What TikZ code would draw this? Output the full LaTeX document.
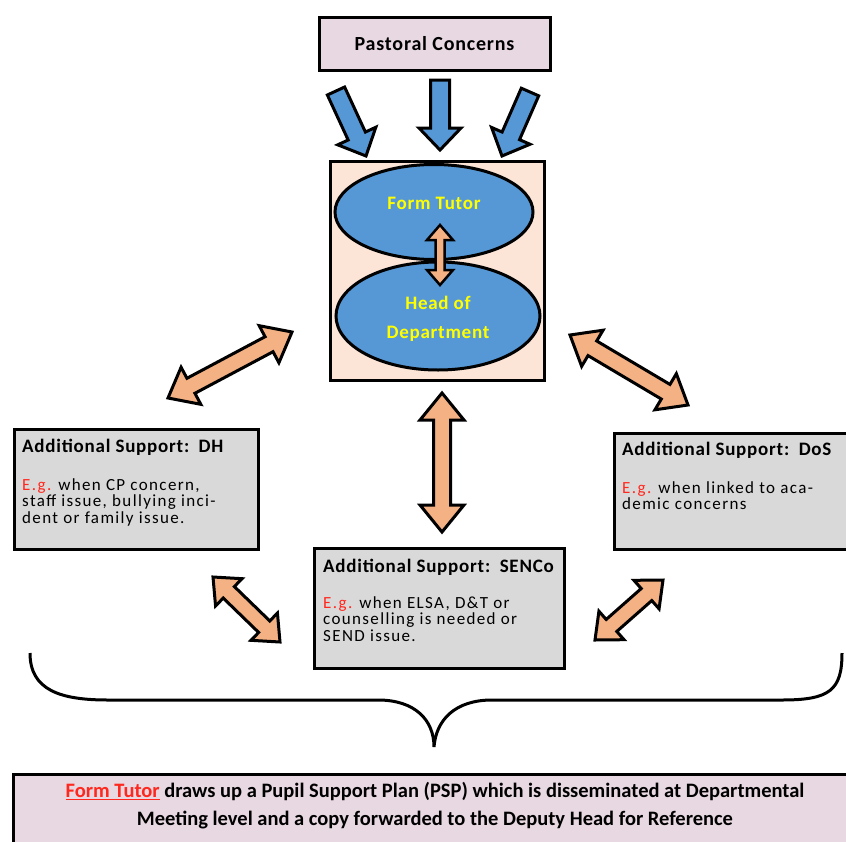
\documentclass[tikz,border=0pt]{standalone}
\usepackage{fontspec}
\setmainfont{Carlito}
\newfontfamily\widefont[LetterSpace=4]{Carlito}
\newfontfamily\bodyfont[LetterSpace=8]{Carlito}
\usetikzlibrary{calc,shapes.geometric}

\definecolor{pinkbox}{RGB}{232,216,226}
\definecolor{peach}{RGB}{252,228,214}
\definecolor{ovalblue}{RGB}{86,152,214}
\definecolor{greybox}{RGB}{217,217,217}
\definecolor{orangearr}{RGB}{244,177,131}
\definecolor{egred}{RGB}{255,40,30}
\definecolor{ovaltext}{RGB}{255,255,0}

% block arrow: from, to, half shaft, half head, head length, style
\newcommand{\blockarrow}[6]{%
  \path ($(#2)!#5!(#1)$) coordinate (hb);
  \filldraw[#6] ($(#1)!#3!90:(#2)$) -- ($(hb)!#3!90:(#2)$) -- ($(hb)!#4!90:(#2)$)
    -- (#2) -- ($(hb)!#4!-90:(#2)$) -- ($(hb)!#3!-90:(#2)$) -- ($(#1)!#3!-90:(#2)$) -- cycle;
}
% two-way block arrow, same arguments
\newcommand{\twowayarrow}[6]{%
  \path ($(#1)!#5!(#2)$) coordinate (ha) ($(#2)!#5!(#1)$) coordinate (hb);
  \filldraw[#6] (#1) -- ($(ha)!#4!90:(#2)$) -- ($(ha)!#3!90:(#2)$) -- ($(hb)!#3!90:(#2)$)
    -- ($(hb)!#4!90:(#2)$) -- (#2) -- ($(hb)!#4!-90:(#2)$) -- ($(hb)!#3!-90:(#2)$)
    -- ($(ha)!#3!-90:(#2)$) -- ($(ha)!#4!-90:(#2)$) -- cycle;
}

\tikzset{
  box/.style={draw, line width=3pt, inner sep=0pt},
  oval/.style={ellipse, draw, line width=3pt, fill=ovalblue, inner sep=0pt},
  ovaltxt/.style={text=ovaltext, font=\fontsize{19}{29}\selectfont\bfseries\widefont, align=center},
  headtxt/.style={anchor=base west, inner sep=0pt, font=\fontsize{19}{20}\selectfont\bfseries\widefont},
  bodytxt/.style={anchor=north west, inner sep=0pt, align=left, font=\fontsize{17}{16.5}\selectfont\bodyfont},
  inarrow/.style={fill=ovalblue, draw, line width=3pt, line join=miter},
  linkarrow/.style={fill=orangearr, draw, line width=3pt, line join=miter}
}

\begin{document}
\begin{tikzpicture}[x=1pt,y=-1pt]
\useasboundingbox (0,0) rectangle (846,841);
\clip (0,0) rectangle (846,841);

% top box and the three arrows into the centre
\node[box, fill=pinkbox, minimum width=231pt, minimum height=53pt] (pc) at (434.5,43.5)
  {\fontsize{20}{22}\selectfont\bfseries\widefont Pastoral Concerns};
\coordinate (in1 s) at (336,91);
\coordinate (in1 e) at (366,156);
\coordinate (in2 s) at (440,80);
\coordinate (in2 e) at (440,150);
\coordinate (in3 s) at (530,92);
\coordinate (in3 e) at (502,156);
\blockarrow{in1 s}{in1 e}{9.5pt}{21pt}{22pt}{inarrow}
\blockarrow{in2 s}{in2 e}{9.5pt}{21pt}{22pt}{inarrow}
\blockarrow{in3 s}{in3 e}{9.5pt}{21pt}{22pt}{inarrow}

% centre: form tutor and head of department
\node[box, fill=peach, minimum width=214pt, minimum height=219pt] (mid) at (437,270.5) {};
\node[oval, minimum width=198pt, minimum height=95pt] (ft) at (434,212) {};
\node[oval, minimum width=204pt, minimum height=108pt] (hod) at (438,316) {};
\node[ovaltxt] (ft text) at ($(ft)+(0,-9)$) {Form Tutor};
\node[ovaltxt] (hod text) at ($(hod)+(0,3)$) {Head of\\Department};
\coordinate (fh a) at (440,225);
\coordinate (fh b) at (440,285);
\twowayarrow{fh a}{fh b}{4.5pt}{13pt}{15pt}{linkarrow, line width=2.5pt}

% the three support boxes
\node[box, fill=greybox, minimum width=244pt, minimum height=120pt, anchor=north west] (dh) at (13,428) {};
\node[headtxt] (dh head) at (22,452) {Additional Support:\enspace DH};
\node[bodytxt] (dh body) at (22,478) {\textcolor{egred}{E.g.} when CP concern,\\staff issue, bullying inci-\\dent or family issue.};

\node[box, fill=greybox, minimum width=250pt, minimum height=116pt, anchor=north west] (dos) at (613,432) {};
\node[headtxt] (dos head) at (622,455) {Additional Support:\enspace DoS};
\node[bodytxt] (dos body) at (622,481) {\textcolor{egred}{E.g.} when linked to aca-\\demic concerns};

\node[box, fill=greybox, minimum width=250pt, minimum height=120pt, anchor=north west] (sen) at (313,547) {};
\node[headtxt] (sen head) at (323,572) {Additional Support:\enspace SENCo};
\node[bodytxt] (sen body) at (323,596) {\textcolor{egred}{E.g.} when ELSA, D\&T or\\counselling is needed or\\SEND issue.};

% two-way links
\coordinate (l1 a) at (168,398);
\coordinate (l1 b) at (292,332);
\coordinate (l2 a) at (570,335);
\coordinate (l2 b) at (688,405);
\coordinate (l3 a) at (442,393);
\coordinate (l3 b) at (442,532);
\coordinate (l4 a) at (213,577);
\coordinate (l4 b) at (280,642);
\coordinate (l5 a) at (663,580);
\coordinate (l5 b) at (595,640);
\twowayarrow{l1 a}{l1 b}{8.5pt}{21pt}{26pt}{linkarrow}
\twowayarrow{l2 a}{l2 b}{8.5pt}{21pt}{26pt}{linkarrow}
\twowayarrow{l3 a}{l3 b}{8.5pt}{22pt}{27pt}{linkarrow}
\twowayarrow{l4 a}{l4 b}{8pt}{19pt}{22pt}{linkarrow}
\twowayarrow{l5 a}{l5 b}{8pt}{19pt}{22pt}{linkarrow}

% brace
\draw[line width=3pt] (30,653) .. controls (30,690) and (60,700) .. (108,700) -- (378,700)
  .. controls (415,700) and (434,720) .. (434,747)
  .. controls (436,720) and (455,700) .. (492,700) -- (782,700)
  .. controls (830,700) and (842,690) .. (842,653);

% bottom box
\node[box, fill=pinkbox, minimum width=850pt, minimum height=90pt, anchor=north west] (psp) at (12,773) {};
\node[align=center, inner sep=0pt, font=\fontsize{20.5}{28}\selectfont\bfseries] (psp text) at (435,806)
  {\textcolor{egred}{\underline{Form Tutor}} draws up a Pupil Support Plan (PSP) which is disseminated at Departmental\\
   Meeting level and a copy forwarded to the Deputy Head for Reference};
\end{tikzpicture}
\end{document}
